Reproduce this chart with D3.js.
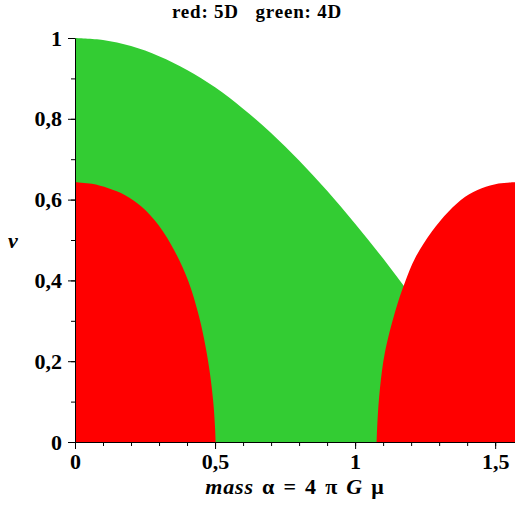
<!DOCTYPE html>
<html>
<head>
<meta charset="utf-8">
<script src="https://cdn.jsdelivr.net/npm/d3@7"></script>
<style>
  body { margin: 0; background: #fff; }
  text { font-family: "Liberation Serif", "Times New Roman", serif; font-weight: bold; }
</style>
</head>
<body>
<div id="chart"></div>
<script>
// 4D (green) boundary
var greenAlpha = [0, 0.1, 0.2, 0.3, 0.4, 0.5, 0.6, 0.7, 0.8, 0.9, 1.0, 1.1, 1.2, 1.3, 1.4, 1.5, 1.5708];
var greenV     = [1, 0.995, 0.98, 0.955, 0.921, 0.878, 0.825, 0.765, 0.697, 0.622, 0.54, 0.454, 0.362, 0.267, 0.17, 0.071, 0];

// 5D (red) regions
var redLeftAlpha = [0, 0.06, 0.119, 0.179, 0.238, 0.298, 0.357, 0.405, 0.44, 0.46, 0.48, 0.494, 0.5, 0.502];
var redLeftV     = [0.643, 0.639, 0.628, 0.611, 0.582, 0.537, 0.471, 0.397, 0.318, 0.258, 0.178, 0.096, 0.035, 0];
var redRightAlpha = [1.077, 1.08, 1.089, 1.106, 1.143, 1.179, 1.214, 1.274, 1.333, 1.393, 1.452, 1.512, 1.5708];
var redRightV     = [0, 0.054, 0.135, 0.22, 0.323, 0.397, 0.455, 0.521, 0.57, 0.607, 0.628, 0.64, 0.643];

var xTicks = [0, 0.5, 1, 1.5];
var xTickLabels = ["0", "0,5", "1", "1,5"];
var yTicks = [0, 0.2, 0.4, 0.6, 0.8, 1];
var yTickLabels = ["0", "0,2", "0,4", "0,6", "0,8", "1"];

var width = 515;
var height = 523;

var x = d3.scaleLinear().domain([0, Math.PI / 2]).range([75, 515]);
var y = d3.scaleLinear().domain([0, 1]).range([442, 38]);

var svg = d3.select("#chart")
  .append("svg")
  .attr("width", width)
  .attr("height", height);

function pts(a, v) {
  return a.map(function(d, i) { return [d, v[i]]; });
}

var area = d3.area()
  .x(function(d) { return x(d[0]); })
  .y0(y(0))
  .y1(function(d) { return y(d[1]); })
  .curve(d3.curveCatmullRom.alpha(0.5));

svg.append("path")
  .attr("d", area(pts(greenAlpha, greenV)))
  .attr("fill", "#33cc33");

svg.append("path")
  .attr("d", area(pts(redLeftAlpha, redLeftV)))
  .attr("fill", "#ff0000");

svg.append("path")
  .attr("d", area(pts(redRightAlpha, redRightV)))
  .attr("fill", "#ff0000");

// axes: minor ticks, then major ticks with labels
var minorX = d3.range(0, 1.6, 0.1);
var minorY = d3.range(0, 1.05, 0.1);

svg.append("g")
  .attr("transform", "translate(0," + y(0) + ")")
  .call(d3.axisBottom(x).tickValues(minorX).tickSize(4).tickFormat("").tickSizeOuter(0));

var xAxis = svg.append("g")
  .attr("transform", "translate(0," + y(0) + ")")
  .call(d3.axisBottom(x).tickValues(xTicks).tickSize(7).tickSizeOuter(0)
    .tickFormat(function(d, i) { return xTickLabels[i]; }));
xAxis.select(".domain").remove();
xAxis.selectAll("text")
  .attr("y", 11)
  .attr("font-size", 22)
  .attr("font-family", null);

svg.append("g")
  .attr("transform", "translate(" + x(0) + ",0)")
  .call(d3.axisLeft(y).tickValues(minorY).tickSize(4).tickFormat("").tickSizeOuter(0));

var yAxis = svg.append("g")
  .attr("transform", "translate(" + x(0) + ",0)")
  .call(d3.axisLeft(y).tickValues(yTicks).tickSize(7).tickSizeOuter(0)
    .tickFormat(function(d, i) { return yTickLabels[i]; }));
yAxis.select(".domain").remove();
yAxis.selectAll("text")
  .attr("x", -13)
  .attr("font-size", 22)
  .attr("font-family", null);

svg.selectAll(".domain").attr("stroke", "#000");

// title and axis labels
svg.append("text")
  .attr("x", 257)
  .attr("y", 18)
  .attr("text-anchor", "middle")
  .attr("font-size", 19)
  .attr("letter-spacing", 0.8)
  .attr("xml:space", "preserve")
  .text("red: 5D   green: 4D");

var xl = svg.append("text")
  .attr("x", 295)
  .attr("y", 494)
  .attr("text-anchor", "middle")
  .attr("font-size", 22)
  .attr("letter-spacing", 0.8)
  .attr("word-spacing", 2)
  .attr("xml:space", "preserve");
xl.append("tspan").attr("font-style", "italic").text("mass");
xl.append("tspan").text(" \u03b1 = 4 \u03c0 ");
xl.append("tspan").attr("font-style", "italic").text("G");
xl.append("tspan").text(" \u03bc");

svg.append("text")
  .attr("x", 13)
  .attr("y", 248)
  .attr("text-anchor", "middle")
  .attr("font-size", 22)
  .attr("font-style", "italic")
  .text("v");
</script>
</body>
</html>
